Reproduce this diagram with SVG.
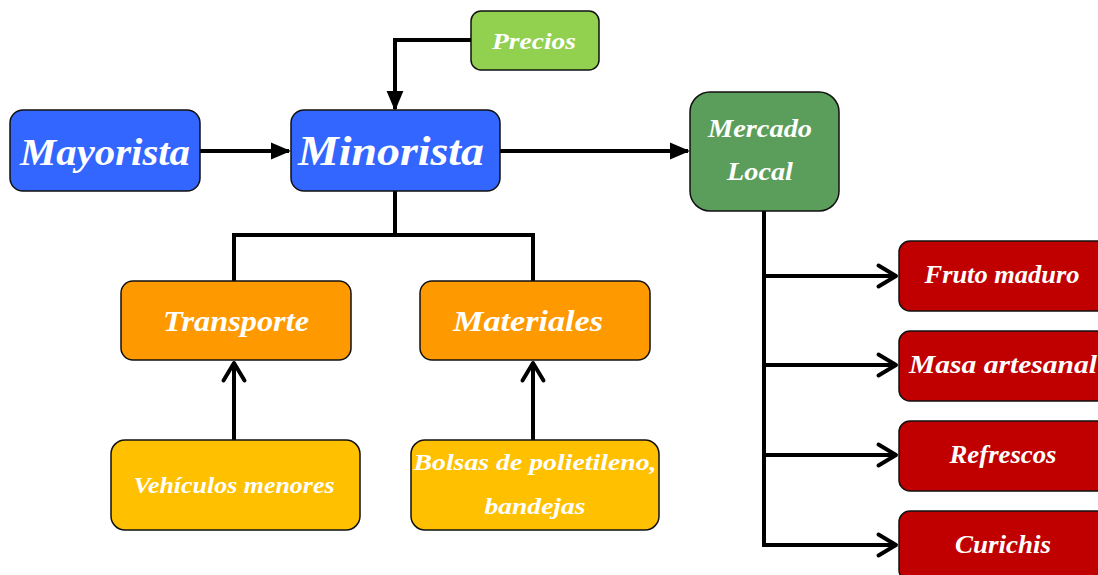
<svg xmlns="http://www.w3.org/2000/svg" width="1098" height="575" viewBox="0 0 1098 575">
  <defs>
    <marker id="solid" viewBox="0 0 10 10" refX="9" refY="5" markerWidth="5" markerHeight="5" markerUnits="strokeWidth" orient="auto">
      <path d="M0,0.8 L10,5 L0,9.2 Z" fill="#000"/>
    </marker>
    <marker id="open" viewBox="0 0 12 12" refX="10" refY="6" markerWidth="7" markerHeight="7" markerUnits="strokeWidth" orient="auto">
      <path d="M2.5,1.5 L10,6 L2.5,10.5" fill="none" stroke="#000" stroke-width="1.7" stroke-linecap="round" stroke-linejoin="round"/>
    </marker>
  </defs>
  <style>
    .box { stroke: #111; stroke-width: 1.5; }
    .lbl { font-family: "Liberation Serif", "DejaVu Serif", serif; font-style: italic; font-weight: bold; fill: #fff; text-anchor: middle; }
    .conn { fill: none; stroke: #000; stroke-width: 4; }
  </style>

  <g id="connectors">
    <line class="conn" x1="200" y1="151" x2="289" y2="151" marker-end="url(#solid)"/>
    <line class="conn" x1="500" y1="151" x2="688" y2="151" marker-end="url(#solid)"/>
    <polyline class="conn" points="471,40 395,40 395,109" marker-end="url(#solid)"/>
    <polyline class="conn" points="395,191 395,235 234,235 234,281"/>
    <polyline class="conn" points="395,235 533,235 533,281"/>
    <line class="conn" x1="234" y1="440" x2="234" y2="363" marker-end="url(#open)"/>
    <line class="conn" x1="533" y1="440" x2="533" y2="363" marker-end="url(#open)"/>
    <polyline class="conn" points="764,211 764,545 896,545" marker-end="url(#open)"/>
    <line class="conn" x1="764" y1="276" x2="896" y2="276" marker-end="url(#open)"/>
    <line class="conn" x1="764" y1="365" x2="896" y2="365" marker-end="url(#open)"/>
    <line class="conn" x1="764" y1="455" x2="896" y2="455" marker-end="url(#open)"/>
  </g>

  <g id="mayorista">
    <rect class="box" x="10" y="110" width="190" height="81" rx="13" fill="#3366FF"/>
    <text class="lbl" x="105" y="165" font-size="38" textLength="170" lengthAdjust="spacingAndGlyphs">Mayorista</text>
  </g>
  <g id="minorista">
    <rect class="box" x="291" y="110" width="209" height="81" rx="13" fill="#3366FF"/>
    <text class="lbl" x="391" y="165" font-size="42" textLength="186" lengthAdjust="spacingAndGlyphs">Minorista</text>
  </g>
  <g id="precios">
    <rect class="box" x="471" y="11" width="128" height="59" rx="10" fill="#92D050"/>
    <text class="lbl" x="534" y="49" font-size="24" textLength="84" lengthAdjust="spacingAndGlyphs">Precios</text>
  </g>
  <g id="mercado-local">
    <rect class="box" x="690" y="92" width="149" height="119" rx="20" fill="#5B9E5C"/>
    <text class="lbl" x="760" y="137" font-size="25" textLength="104" lengthAdjust="spacingAndGlyphs">Mercado</text>
    <text class="lbl" x="760" y="180" font-size="25" textLength="66" lengthAdjust="spacingAndGlyphs">Local</text>
  </g>
  <g id="transporte">
    <rect class="box" x="121" y="281" width="230" height="79" rx="12" fill="#FF9900"/>
    <text class="lbl" x="236" y="331" font-size="30" textLength="146" lengthAdjust="spacingAndGlyphs">Transporte</text>
  </g>
  <g id="materiales">
    <rect class="box" x="420" y="281" width="230" height="79" rx="12" fill="#FF9900"/>
    <text class="lbl" x="528" y="331" font-size="30" textLength="150" lengthAdjust="spacingAndGlyphs">Materiales</text>
  </g>
  <g id="vehiculos">
    <rect class="box" x="111" y="440" width="249" height="90" rx="14" fill="#FFC000"/>
    <text class="lbl" x="234" y="493" font-size="24" textLength="201" lengthAdjust="spacingAndGlyphs">Vehículos menores</text>
  </g>
  <g id="bolsas">
    <rect class="box" x="411" y="440" width="248" height="90" rx="14" fill="#FFC000"/>
    <text class="lbl" x="535" y="470" font-size="24" textLength="243" lengthAdjust="spacingAndGlyphs">Bolsas de polietileno,</text>
    <text class="lbl" x="535" y="514" font-size="24" textLength="101" lengthAdjust="spacingAndGlyphs">bandejas</text>
  </g>
  <g id="fruto-maduro">
    <rect class="box" x="899" y="241" width="215" height="70" rx="11" fill="#C00000"/>
    <text class="lbl" x="1002" y="283" font-size="25" textLength="155" lengthAdjust="spacingAndGlyphs">Fruto maduro</text>
  </g>
  <g id="masa-artesanal">
    <rect class="box" x="899" y="331" width="215" height="70" rx="11" fill="#C00000"/>
    <text class="lbl" x="1003" y="373" font-size="25" textLength="188" lengthAdjust="spacingAndGlyphs">Masa artesanal</text>
  </g>
  <g id="refrescos">
    <rect class="box" x="899" y="421" width="215" height="70" rx="11" fill="#C00000"/>
    <text class="lbl" x="1003" y="463" font-size="25" textLength="107" lengthAdjust="spacingAndGlyphs">Refrescos</text>
  </g>
  <g id="curichis">
    <rect class="box" x="899" y="511" width="215" height="70" rx="11" fill="#C00000"/>
    <text class="lbl" x="1003" y="553" font-size="25" textLength="96" lengthAdjust="spacingAndGlyphs">Curichis</text>
  </g>
</svg>
